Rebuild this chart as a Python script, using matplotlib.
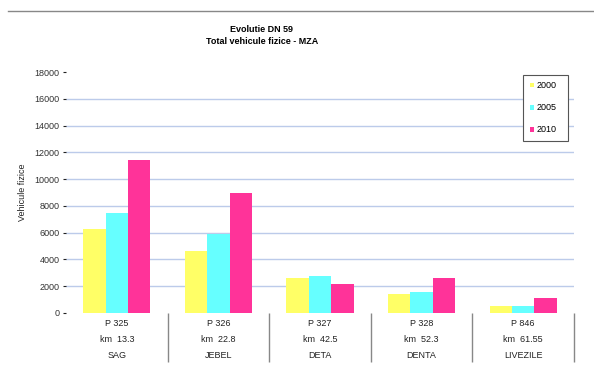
import matplotlib
matplotlib.use('Agg')
from matplotlib import pyplot as plt
from matplotlib.lines import Line2D
import numpy as np

plt.rcParams['font.family'] = ['Liberation Sans', 'DejaVu Sans']

# date
puncte = ['P 325', 'P 326', 'P 327', 'P 328', 'P 846']
km = ['km  13.3', 'km  22.8', 'km  42.5', 'km  52.3', 'km  61.55']
localitati = ['SAG', 'JEBEL', 'DETA', 'DENTA', 'LIVEZILE']

v2000 = [6300, 4600, 2600, 1400, 500]
v2005 = [7500, 5900, 2750, 1550, 500]
v2010 = [11400, 9000, 2150, 2600, 1100]

fig = plt.figure(figsize=(5.94, 3.69), dpi=100)
ax = fig.add_axes([66/594, 1-313/369, 508/594, 241/369])

index = np.arange(len(puncte)) + 0.5
bar_width = 0.22

ax.bar(index - bar_width, v2000, bar_width, color='#ffff66', label='2000', zorder=2)
ax.bar(index, v2005, bar_width, color='#66ffff', label='2005', zorder=2)
ax.bar(index + bar_width, v2010, bar_width, color='#ff3399', label='2010', zorder=2)

ax.set_xlim(0, len(puncte))
ax.set_ylim(0, 18000)
ax.set_yticks(np.arange(0, 18001, 2000))

# etichete categorii pe 3 randuri
ax.set_xticks(np.arange(1, len(puncte) + 1))
ax.set_xticklabels([])
ax.set_xticks(index, minor=True)
ax.set_xticklabels([p + '\n' + k + '\n' + l for p, k, l in zip(puncte, km, localitati)],
                   minor=True, linespacing=2.0)
ax.tick_params(axis='x', which='major', length=35, width=1, color='#888888', direction='out')
ax.tick_params(axis='x', which='minor', length=0, pad=4, labelsize=6.5, labelcolor='#222222')
ax.tick_params(axis='y', length=2.5, width=0.8, color='#222222', labelsize=6.5,
               labelcolor='#333333', pad=2)

ax.yaxis.grid(True, color='#bccbea', linewidth=1, zorder=0)
gl = ax.yaxis.get_gridlines()
gl[0].set_visible(False)
gl[-1].set_visible(False)
for s in ax.spines.values():
    s.set_visible(False)

ax.set_ylabel('Vehicule fizice', fontsize=6.5, color='#222222')
ax.yaxis.set_label_coords((27 - 66) / 508, 0.5)

leg = ax.legend(loc='upper left', bbox_to_anchor=(0.90, 0.718, 0.0886, 0.27),
                borderaxespad=0, fontsize=6.5, handlelength=0.45, handleheight=0.45,
                handletextpad=0.3, labelspacing=1.45, borderpad=0.7, fancybox=False,
                edgecolor='#555555', framealpha=1, mode='expand')
leg.get_frame().set_linewidth(0.8)

fig.text(262/594, 1-30/369, 'Evolutie DN 59', ha='center', va='center',
         fontsize=6.5, fontweight='bold')
fig.text(262/594, 1-42/369, 'Total vehicule fizice - MZA', ha='center', va='center',
         fontsize=6.5, fontweight='bold')

fig.add_artist(Line2D([8/594, 1], [1-11/369, 1-11/369], color='#888888', linewidth=1))

plt.savefig('out.png', dpi=100)
